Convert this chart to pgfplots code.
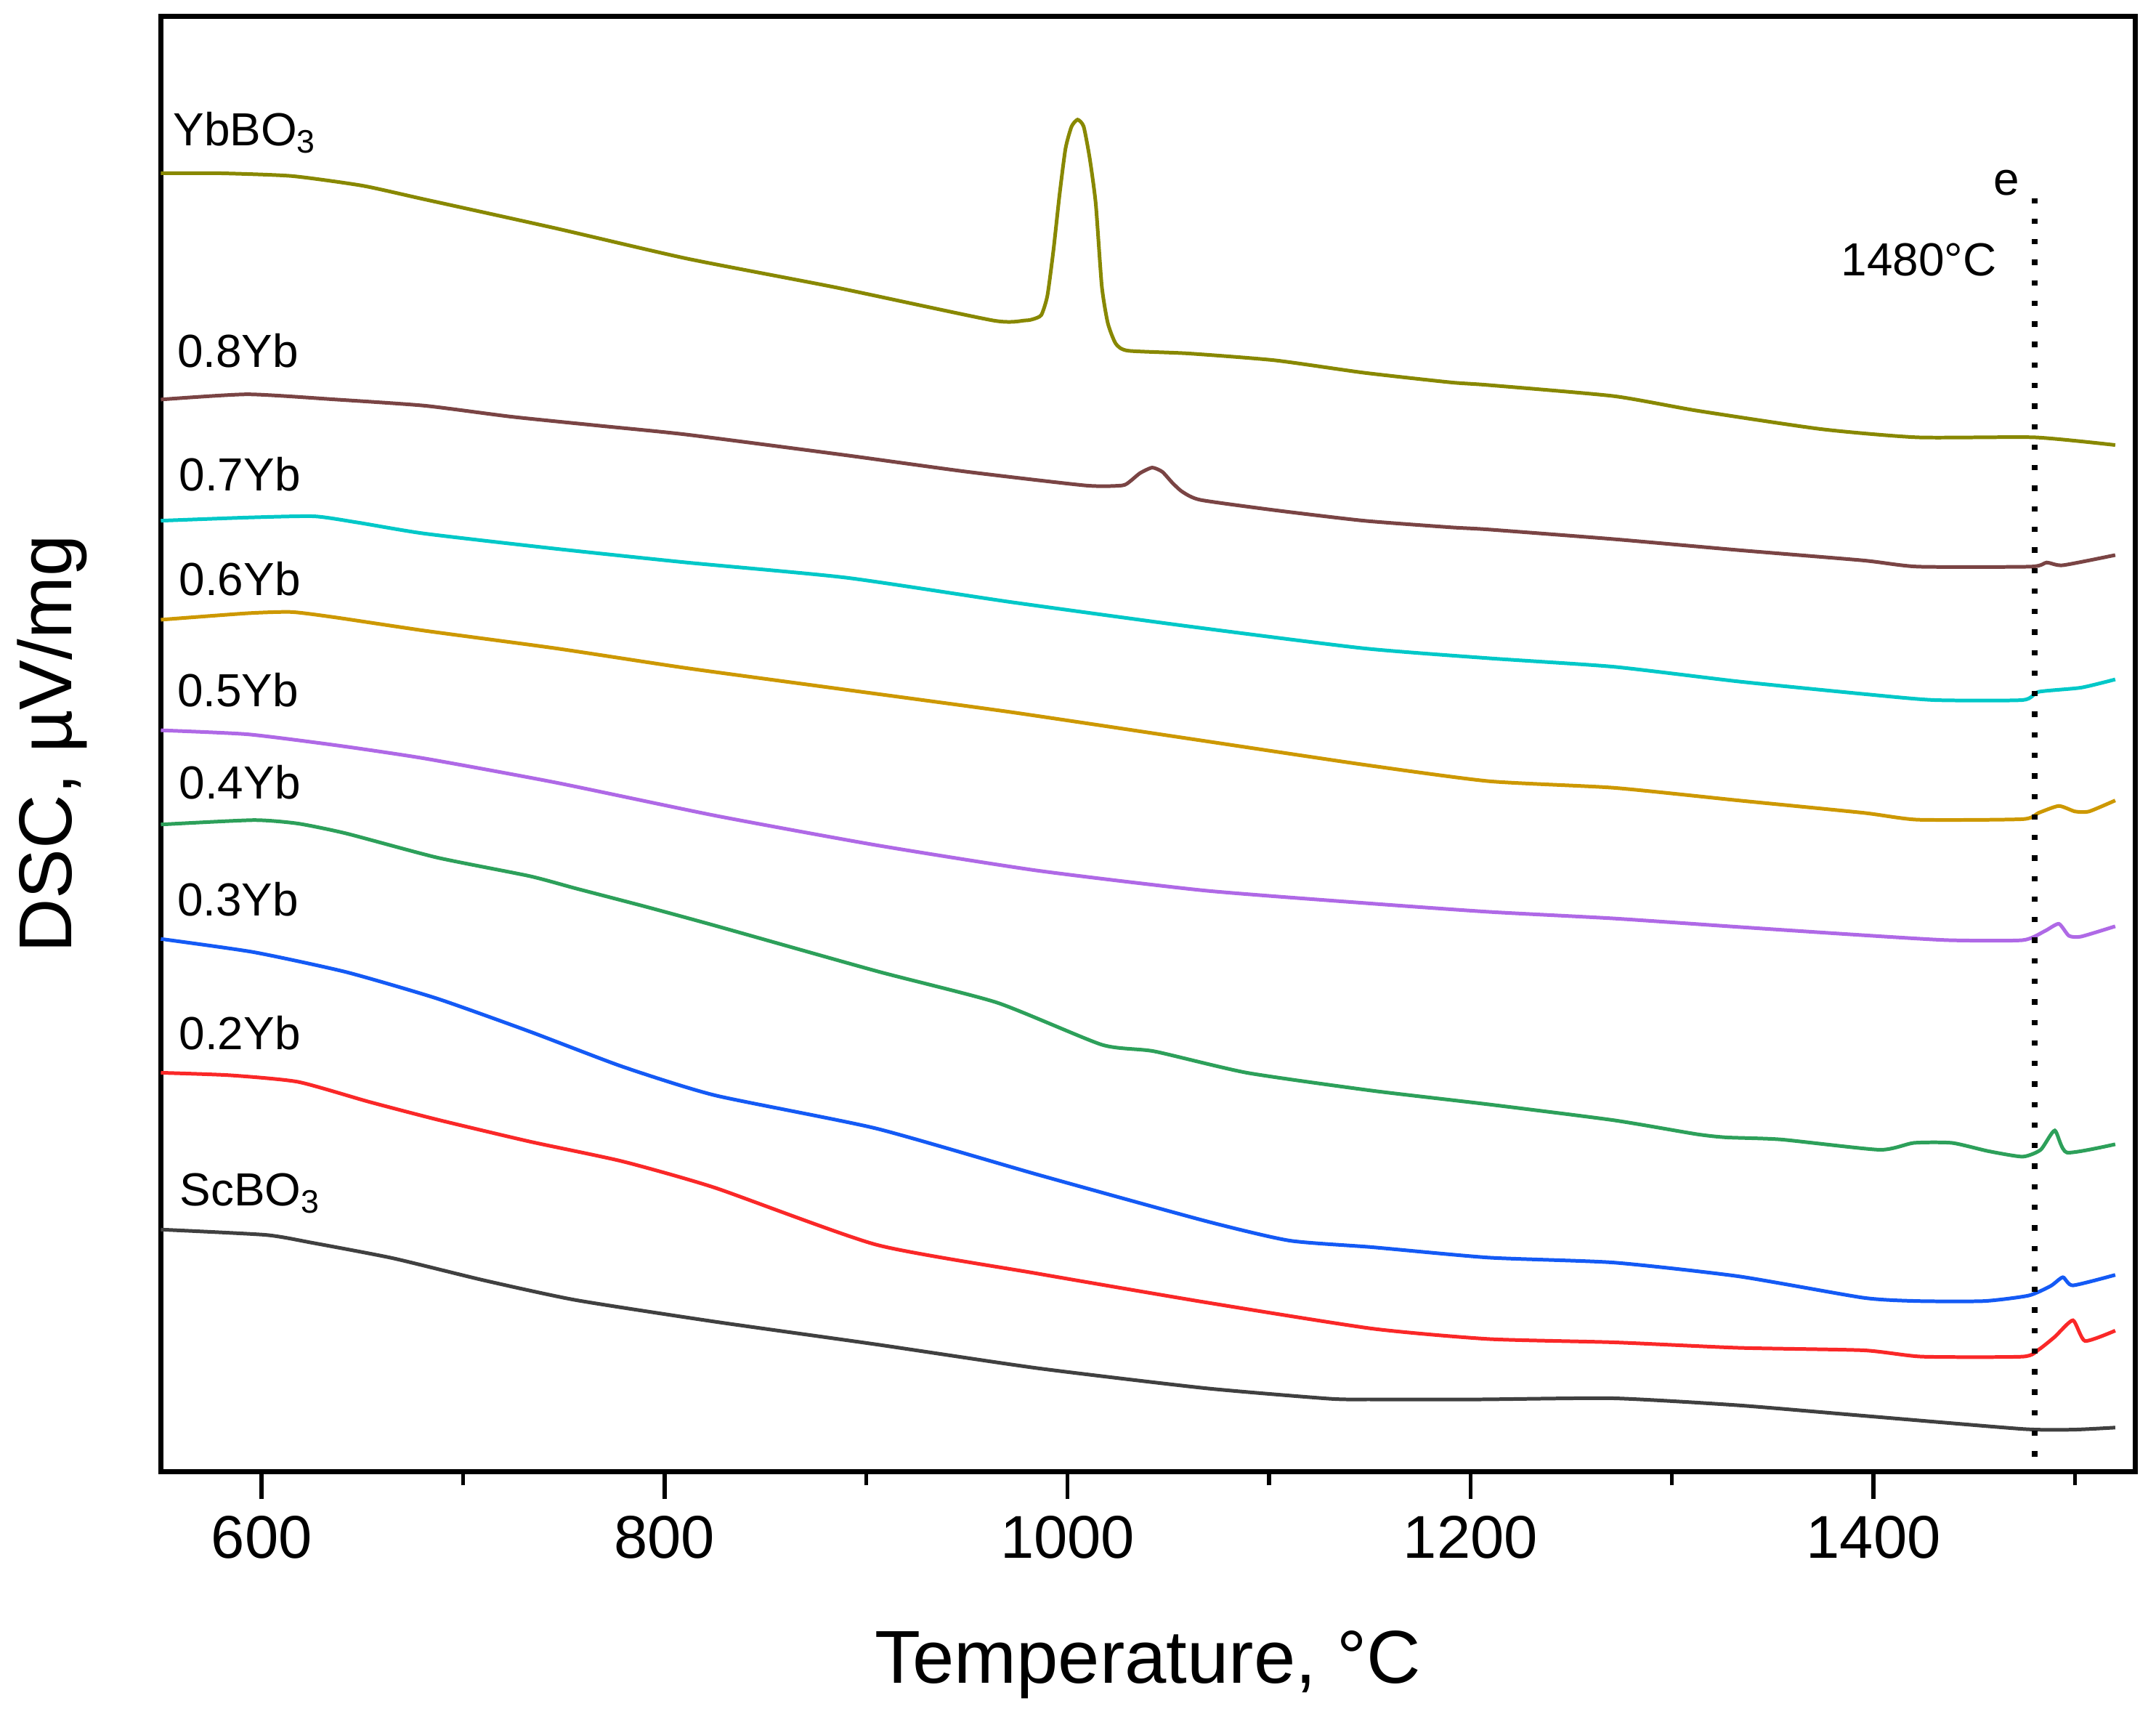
\documentclass[border=0pt]{standalone}
\usepackage{pgfplots}
\pgfplotsset{compat=1.18}
\usepackage{fontspec}
\setmainfont{Liberation Sans}

\definecolor{cScBO}{RGB}{64,64,64}
\definecolor{cTwo}{RGB}{250,40,40}
\definecolor{cThree}{RGB}{20,90,245}
\definecolor{cFour}{RGB}{45,160,90}
\definecolor{cFive}{RGB}{175,105,230}
\definecolor{cSix}{RGB}{205,152,0}
\definecolor{cSeven}{RGB}{0,200,200}
\definecolor{cEight}{RGB}{122,68,68}
\definecolor{cYbBO}{RGB}{136,136,0}

\tikzset{lbl/.style={anchor=base west, inner sep=0pt, font=\fontsize{9.6}{11}\selectfont}}

\begin{document}
\begin{tikzpicture}
\begin{axis}[
    scale only axis,
    width=14.36cm,
    height=10.58cm,
    xmin=550, xmax=1530,
    ymin=0, ymax=1058,
    axis line style={line width=1pt},
    xtick={600,800,1000,1200,1400},
    minor xtick={700,900,1100,1300,1500},
    ytick=\empty,
    xtick pos=left,
    xtick align=outside,
    xtick style={line width=0.8pt, black},
    major tick length=0.2cm,
    minor tick length=0.1cm,
    xticklabel style={font=\fontsize{12.5}{14}\selectfont},
    /pgf/number format/assume math mode=true,
    /pgf/number format/1000 sep={},
    clip=false,
    every axis plot/.append style={line width=0.75pt, smooth, tension=0.35},
]
    % ScBO3
    \addplot[cScBO] coordinates {
        (550,176) (602,172.1) (625,166.4) (665,155.2) (710,139.2) (756,124.7)
        (825,109) (905,92.5) (985,75.2) (1068,60.7) (1130,53) (1151,52.5)
        (1205,52.5) (1271,53.3) (1333,48.2) (1395,40.6) (1474,31) (1499,30.5) (1520,32)
    };
    % 0.2Yb
    \addplot[cTwo] coordinates {
        (550,290) (584,288.2) (618,283.4) (653,269) (687,256) (733,240) (779,225.6)
        (825,206.4) (905,165) (985,144) (1068,123.2) (1151,104) (1209,96.4)
        (1271,94) (1333,90) (1395,88.2) (1424,83.6) (1474,83.6) (1482,88.7)
        (1490,98) (1499,110) (1505,95) (1520,102.5)
    };
    % 0.3Yb
    \addplot[cThree] coordinates {
        (550,387.3) (596,377.7) (642,363.2) (687,344) (733,320) (779,294.5)
        (825,273.6) (905,249.5) (985,216) (1068,182.4) (1110,168) (1151,163.2)
        (1209,155.6) (1271,152) (1333,142) (1395,126.4) (1422,124) (1455,124)
        (1477,128) (1488,135) (1494,141.3) (1499,135.4) (1520,143)
    };
    % 0.4Yb
    \addplot[cFour] coordinates {
        (550,470.5) (596,473.7) (618,471.2) (642,464) (687,446.5) (733,433)
        (756,424) (790,411) (825,397) (905,364) (965,341) (1017,310.4)
        (1043,305.6) (1089,290) (1151,277) (1209,267) (1271,255.5) (1312,245.4)
        (1327,243) (1354,241.5) (1403,234) (1420,239) (1439,239) (1457,233)
        (1474,229) (1483,234) (1490,248) (1496,232) (1520,238)
    };
    % 0.5Yb
    \addplot[cFive] coordinates {
        (550,539) (593,536.1) (637,528.1) (681,518.5) (746,501) (825,477)
        (905,455.5) (985,437) (1068,422.5) (1151,413) (1209,407) (1271,402.2)
        (1333,396) (1395,390) (1437,386.4) (1474,386.4) (1485,393) (1492,398.3)
        (1497,389.6) (1503,389) (1520,396.5)
    };
    % 0.6Yb
    \addplot[cSix] coordinates {
        (550,619.4) (593,624.1) (615,625) (637,621) (681,611.4) (746,598.6)
        (811,584.2) (890,568.5) (972,552.2) (1060,533) (1147,514) (1209,502)
        (1271,497.2) (1333,488) (1395,479) (1422,474) (1474,474.4) (1482,479)
        (1492,484) (1500,480) (1507,480) (1520,488)
    };
    % 0.7Yb
    \addplot[cSeven] coordinates {
        (550,691.4) (593,693.7) (626,694.6) (648,690) (681,682) (746,671)
        (811,661) (890,650) (972,632.2) (1060,614.6) (1147,598.6) (1209,591.4)
        (1271,585.2) (1333,574.5) (1395,565.4) (1430,561) (1474,561) (1482,567)
        (1503,570) (1520,576)
    };
    % 0.8Yb
    \addplot[cEight] coordinates {
        (550,779.5) (593,783.3) (637,779.5) (681,775) (724,767) (768,760.4)
        (811,754) (890,739) (950,727) (1009,717) (1027,717) (1031,720)
        (1036,726) (1042,730) (1047,727) (1052,719) (1057,712.4) (1066,706.5)
        (1103,699) (1147,691.4) (1190,686.6) (1209,685) (1271,678) (1333,670)
        (1395,662.5) (1422,658) (1478,658) (1486,661) (1494,659) (1520,666.4)
    };
    % YbBO3
    \addplot[cYbBO] coordinates {
        (550,944) (580,944) (615,942) (650,935) (681,925) (746,904) (811,882)
        (885,861) (963,837) (979,837) (983,838) (987,841) (990,855) (993,888)
        (996,928) (999,962) (1002,978) (1005,983) (1008,978) (1011,955)
        (1014,922) (1017,862) (1020,835) (1024,820) (1030,815) (1060,813)
        (1103,808) (1147,799) (1190,792) (1209,790) (1271,782) (1312,771.5)
        (1374,758) (1422,752) (1480,752) (1520,746.4)
    };

    % eutectic line
    \addplot[black, line width=1.1pt, dash pattern=on 1.1pt off 3.15pt, sharp plot] coordinates {(1480,926) (1480,0)};

    \node[lbl] at (axis cs:555.7,964.3) {YbBO\textsubscript{3}};
    \node[lbl] at (axis cs:557.7,803) {0.8Yb};
    \node[lbl] at (axis cs:558.6,713) {0.7Yb};
    \node[lbl] at (axis cs:558.6,637) {0.6Yb};
    \node[lbl] at (axis cs:557.7,556) {0.5Yb};
    \node[lbl] at (axis cs:558.6,489) {0.4Yb};
    \node[lbl] at (axis cs:557.7,404) {0.3Yb};
    \node[lbl] at (axis cs:558.6,307) {0.2Yb};
    \node[lbl] at (axis cs:559,193.5) {ScBO\textsubscript{3}};
    \node[lbl, anchor=base east] at (axis cs:1473.1,928.4) {e};
    \node[lbl, anchor=base east] at (axis cs:1461.5,869.3) {1480°C};
\end{axis}
\node[anchor=base, font=\fontsize{15.5}{18}\selectfont] at ([yshift=-1.54cm]current axis.south) {Temperature, °C};
\node[anchor=base, rotate=90, font=\fontsize{15.5}{18}\selectfont] at ([xshift=-0.65cm]current axis.west) {DSC, µV/mg};
\pgfresetboundingbox
\path[use as bounding box] ([shift={(-1.17cm,-1.76cm)}]current axis.south west) rectangle ([shift={(0.15cm,0.12cm)}]current axis.north east);
\end{tikzpicture}
\end{document}
